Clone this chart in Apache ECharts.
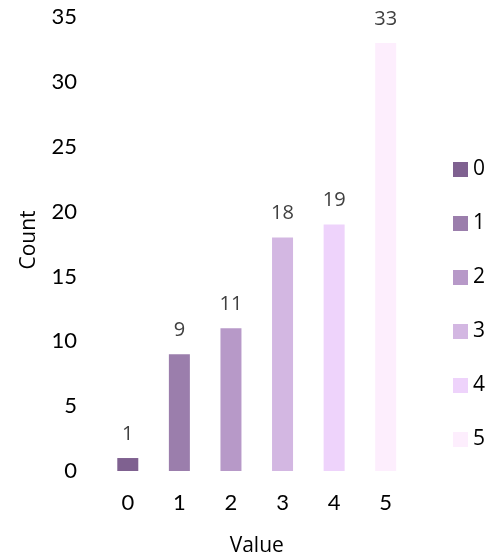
<!DOCTYPE html>
<html>
<head>
<meta charset="utf-8">
<script src="https://cdn.jsdelivr.net/npm/echarts@6/dist/echarts.min.js"></script>
<style>html,body{margin:0;padding:0;background:#fff;}#c{width:496px;height:556px;}</style>
</head>
<body>
<div id="c"></div>
<script>
const categories = ['0', '1', '2', '3', '4', '5'];
const counts = [1, 9, 11, 18, 19, 33];
const yTicks = [0, 5, 10, 15, 20, 25, 30, 35];
const colors = ['#7f6190', '#9b7eac', '#b799c8', '#d3b7e2', '#eed3fb', '#fdeefd'];

const series = categories.map((name, i) => ({
  name: name,
  type: 'bar',
  stack: 'all',
  barWidth: 21,
  itemStyle: { color: colors[i] },
  label: { show: true, position: 'top', distance: 14, color: '#404040', fontFamily: 'Open Sans', fontSize: 20 },
  data: categories.map((c, j) => (j === i ? counts[i] : '-'))
}));

const chart = echarts.init(document.getElementById('c'), null, { renderer: 'canvas' });
chart.setOption({
  animation: false,
  backgroundColor: '#ffffff',
  grid: { left: 102, right: 84.5, top: 17, bottom: 85, containLabel: false, outerBoundsMode: 'none' },
  legend: {
    orient: 'vertical',
    left: 448,
    top: 154,
    itemWidth: 15,
    itemHeight: 15,
    itemGap: 33,
    icon: 'rect',
    textStyle: { color: '#000', fontFamily: 'Open Sans', fontSize: 21 },
    data: categories
  },
  xAxis: {
    type: 'category',
    data: categories,
    name: 'Value',
    nameLocation: 'middle',
    nameGap: 65,
    nameTextStyle: { color: '#000', fontFamily: 'Open Sans', fontSize: 21 },
    axisLine: { show: false },
    axisTick: { show: false },
    axisLabel: { color: '#000', fontFamily: 'Lato', fontSize: 22, margin: 21 }
  },
  yAxis: {
    type: 'value',
    min: yTicks[0],
    max: yTicks[yTicks.length - 1],
    interval: 5,
    name: 'Count',
    nameLocation: 'middle',
    nameGap: 62,
    nameTextStyle: { color: '#000', fontFamily: 'Open Sans', fontSize: 21, padding: [0, 0, 0, 8] },
    axisLine: { show: false },
    axisTick: { show: false },
    splitLine: { show: false },
    axisLabel: { color: '#000', fontFamily: 'Lato', fontSize: 22, margin: 25 }
  },
  series: series
});
</script>
</body>
</html>
